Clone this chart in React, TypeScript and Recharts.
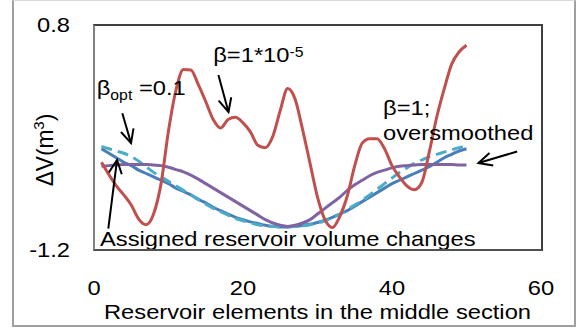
import {
  LineChart,
  Line,
  XAxis,
  YAxis,
  ReferenceLine,
  ReferenceDot,
} from "recharts";

const FONT = "'Liberation Sans', Arial, sans-serif";
// the source picture is a bit wider than tall, so text is stretched sideways
const SX = 1.13;

// reservoir elements in the middle section
const elements = [
  1, 2, 3, 4, 5, 6, 7, 8, 9, 10, 11, 12, 13, 14, 15, 16, 17, 18, 19, 20, 21,
  22, 23, 24, 25, 26, 27, 28, 29, 30, 31, 32, 33, 34, 35, 36, 37, 38, 39, 40,
  41, 42, 43, 44, 45, 46, 47, 48, 49, 50,
];

// assigned reservoir volume changes
const assignedChange = [
  -0.3, -0.34, -0.38, -0.42, -0.45, -0.49, -0.52, -0.55, -0.58, -0.61,
  -0.65, -0.68, -0.71, -0.75, -0.78, -0.82, -0.85, -0.88, -0.91, -0.93,
  -0.95, -0.965, -0.98, -0.99, -0.995, -0.995, -0.99, -0.98, -0.97, -0.955,
  -0.935, -0.91, -0.88, -0.85, -0.81, -0.77, -0.73, -0.69, -0.65, -0.61,
  -0.58, -0.55, -0.52, -0.49, -0.46, -0.42, -0.38, -0.35, -0.32, -0.3,
];

// beta_opt = 0.1
const betaOpt = [
  -0.28, -0.3, -0.32, -0.34, -0.37, -0.41, -0.46, -0.51, -0.55, -0.59,
  -0.63, -0.67, -0.71, -0.75, -0.79, -0.83, -0.86, -0.89, -0.92, -0.94,
  -0.96, -0.975, -0.985, -0.99, -0.995, -0.995, -0.99, -0.985, -0.975, -0.96,
  -0.94, -0.91, -0.88, -0.84, -0.8, -0.76, -0.71, -0.66, -0.61, -0.56,
  -0.51, -0.47, -0.43, -0.4, -0.37, -0.35, -0.33, -0.31, -0.29, -0.28,
];

// beta = 1 (oversmoothed)
const betaOne = [
  -0.455, -0.45, -0.445, -0.44, -0.44, -0.44, -0.44, -0.445, -0.45, -0.465,
  -0.485, -0.505, -0.535, -0.57, -0.61, -0.65, -0.69, -0.73, -0.77, -0.81,
  -0.85, -0.89, -0.93, -0.96, -0.98, -0.99, -0.98, -0.96, -0.93, -0.88,
  -0.83, -0.78, -0.73, -0.67, -0.62, -0.58, -0.54, -0.51, -0.49, -0.47,
  -0.455, -0.45, -0.445, -0.44, -0.44, -0.44, -0.44, -0.44, -0.445, -0.445,
];

// beta = 1e-5 (undersmoothed)
const betaSmall = [
  -0.42, -0.53, -0.63, -0.71, -0.8, -0.925, -0.975, -0.88, -0.61, -0.14,
  0.22, 0.405, 0.4, 0.27, 0.12, -0.04, -0.115, -0.04, -0.02, -0.07,
  -0.15, -0.27, -0.29, -0.19, 0.04, 0.235, 0.14, -0.13, -0.43, -0.73,
  -0.93, -1.0, -0.9, -0.72, -0.45, -0.25, -0.21, -0.21, -0.3, -0.45,
  -0.55, -0.63, -0.665, -0.6, -0.33, -0.02, 0.23, 0.45, 0.56, 0.62,
];

const xTicks = [0, 20, 40, 60];
const yTicks = [-1.2, 0.8];

// annotation arrows, tail -> tip, in data units
const arrows = [
  [{ x: 3.8, y: 0.015 }, { x: 4.97, y: -0.25 }],
  [{ x: 16.7, y: 0.356 }, { x: 18.05, y: 0.027 }],
  [{ x: 1.92, y: -1.01 }, { x: 3.09, y: -0.4 }],
  [{ x: 56.8, y: -0.324 }, { x: 51.6, y: -0.427 }],
];

const data = elements.map((x, i) => ({
  x,
  assigned: assignedChange[i],
  opt: betaOpt[i],
  one: betaOne[i],
  small: betaSmall[i],
}));

// chart box
const W = 577;
const H = 329;
const MARGIN = { top: 25, right: 36, bottom: 9, left: 34 };
const Y_AXIS_W = 60;
const X_AXIS_H = 70;

function Stretched({ x, y, anchor = "start", children }: any) {
  return (
    <text
      transform={`translate(${x},${y}) scale(${SX},1)`}
      fontSize={21}
      fontFamily={FONT}
      fill="#000"
      textAnchor={anchor}
      style={{ whiteSpace: "pre" }}
    >
      {children}
    </text>
  );
}

function XTick({ x, y, payload }: any) {
  return (
    <text
      transform={`translate(${x},${y}) scale(${SX},1)`}
      fontSize={21}
      fontFamily={FONT}
      fill="#000"
      textAnchor="middle"
      dy="0.71em"
    >
      {payload.value}
    </text>
  );
}

function YTick({ x, y, payload }: any) {
  return (
    <text
      transform={`translate(${x},${y}) scale(${SX},1)`}
      fontSize={21}
      fontFamily={FONT}
      fill="#000"
      textAnchor="end"
      dy="0.35em"
    >
      {payload.value}
    </text>
  );
}

function XTitle({ viewBox }: any) {
  const vb = viewBox || { x: 94, y: 250, width: 447, height: 70 };
  return (
    <Stretched x={vb.x + vb.width / 2} y={vb.y + 68.5} anchor="middle">
      Reservoir elements in the middle section
    </Stretched>
  );
}

function YTitle({ viewBox }: any) {
  const vb = viewBox || { x: 34, y: 25, width: 60, height: 225 };
  const cx = vb.x + 19;
  const cy = vb.y + vb.height / 2 + 12.5;
  return (
    <text
      transform={`translate(${cx},${cy}) rotate(-90) scale(1.08,1.1)`}
      fontSize={21}
      fontFamily={FONT}
      fill="#000"
      textAnchor="middle"
    >
      ΔV(m<tspan fontSize={14} dy={-8}>3</tspan>
      <tspan dy={8}>)</tspan>
    </text>
  );
}

function Arrow({ x1, y1, x2, y2 }: any) {
  const ang = Math.atan2(y2 - y1, x2 - x1);
  const len = 15;
  const a = 0.45;
  const w1x = x2 - len * Math.cos(ang - a);
  const w1y = y2 - len * Math.sin(ang - a);
  const w2x = x2 - len * Math.cos(ang + a);
  const w2y = y2 - len * Math.sin(ang + a);
  return (
    <g stroke="#000" strokeWidth={2} fill="none">
      <line x1={x1} y1={y1} x2={x2} y2={y2} />
      <polyline points={`${w1x},${w1y} ${x2},${y2} ${w2x},${w2y}`} />
    </g>
  );
}

export default function App() {
  const plotLeft = MARGIN.left + Y_AXIS_W;
  const plotTop = MARGIN.top;
  const plotW = W - plotLeft - MARGIN.right;
  const plotH = H - MARGIN.top - MARGIN.bottom - X_AXIS_H;
  return (
    <div
      style={{
        position: "absolute",
        left: 0,
        top: 0,
        width: W,
        height: H,
        background: "#fff",
      }}
    >
      {/* outer chart border */}
      <div
        style={{
          position: "absolute",
          left: 12,
          top: 0,
          width: 564,
          height: 327,
          boxSizing: "border-box",
          borderStyle: "solid",
          borderColor: "#d9d9d9 #a0a0a0 #a0a0a0 #a0a0a0",
          borderWidth: "1px 2px 2px 2px",
        }}
      />
      <div style={{ position: "absolute", left: 0, top: 0 }}>
        <LineChart width={W} height={H} data={data} margin={MARGIN}>
          <XAxis
            dataKey="x"
            type="number"
            domain={[0, 60]}
            ticks={xTicks}
            interval={0}
            axisLine={false}
            tickLine={false}
            tickSize={0}
            tickMargin={30}
            height={X_AXIS_H}
            tick={<XTick />}
            label={<XTitle />}
          />
          <YAxis
            type="number"
            domain={[-1.2, 0.8]}
            ticks={yTicks}
            interval={0}
            axisLine={false}
            tickLine={false}
            tickSize={0}
            tickMargin={24}
            width={Y_AXIS_W}
            tick={<YTick />}
            label={<YTitle />}
          />
          <Line
            type="monotone"
            dataKey="assigned"
            stroke="#4A7EBB"
            strokeWidth={3}
            dot={false}
            activeDot={false}
            isAnimationActive={false}
          />
          <Line
            type="monotone"
            dataKey="opt"
            stroke="#4BACC6"
            strokeWidth={3}
            strokeDasharray="11 6"
            dot={false}
            activeDot={false}
            isAnimationActive={false}
          />
          <Line
            type="monotone"
            dataKey="one"
            stroke="#8064A2"
            strokeWidth={3}
            dot={false}
            activeDot={false}
            isAnimationActive={false}
          />
          <Line
            type="monotone"
            dataKey="small"
            stroke="#C0504D"
            strokeWidth={3}
            dot={false}
            activeDot={false}
            isAnimationActive={false}
          />
          {arrows.map((seg, i) => (
            <ReferenceLine
              key={i}
              segment={seg}
              ifOverflow="visible"
              shape={(p: any) => <Arrow {...p} />}
            />
          ))}
          <ReferenceDot
            x={0.36}
            y={0.178}
            r={0}
            ifOverflow="visible"
            shape={(p: any) => (
              <Stretched x={p.cx} y={p.cy}>
                β<tspan fontSize={14} dy={5}>opt</tspan>
                <tspan dy={-5}> =0.1</tspan>
              </Stretched>
            )}
          />
          <ReferenceDot
            x={16.0}
            y={0.474}
            r={0}
            ifOverflow="visible"
            shape={(p: any) => (
              <Stretched x={p.cx} y={p.cy}>
                β=1*10<tspan fontSize={14} dy={-5}>-5</tspan>
              </Stretched>
            )}
          />
          <ReferenceDot
            x={38.8}
            y={0.0}
            r={0}
            ifOverflow="visible"
            shape={(p: any) => (
              <Stretched x={p.cx} y={p.cy}>
                β=1;
              </Stretched>
            )}
          />
          <ReferenceDot
            x={38.8}
            y={-0.222}
            r={0}
            ifOverflow="visible"
            shape={(p: any) => (
              <Stretched x={p.cx} y={p.cy}>
                oversmoothed
              </Stretched>
            )}
          />
          <ReferenceDot
            x={0.8}
            y={-1.164}
            r={0}
            ifOverflow="visible"
            shape={(p: any) => (
              <Stretched x={p.cx} y={p.cy}>
                Assigned reservoir volume changes
              </Stretched>
            )}
          />
        </LineChart>
      </div>
      {/* plot-area frame, drawn on top of the chart */}
      <div
        style={{
          position: "absolute",
          left: plotLeft - 1,
          top: plotTop - 1,
          width: plotW + 3,
          height: plotH + 2,
          boxSizing: "border-box",
          borderStyle: "solid",
          borderWidth: 2,
          borderColor: "#404040 #404040 #505050 #808080",
          pointerEvents: "none",
        }}
      />
    </div>
  );
}
